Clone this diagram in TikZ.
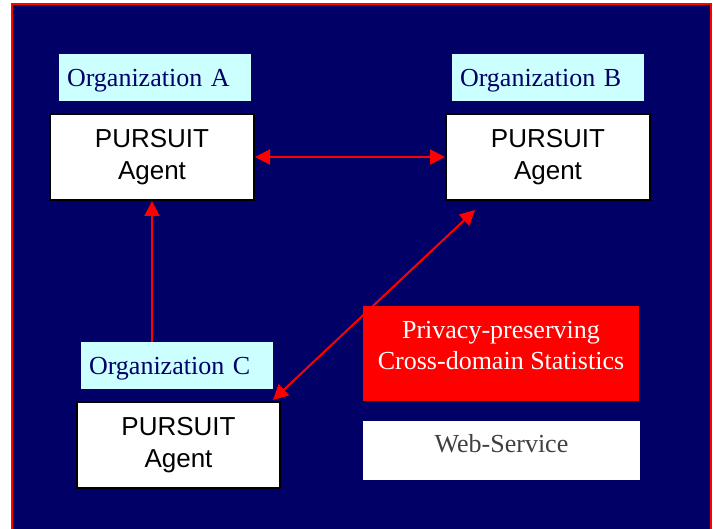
\documentclass[tikz,border=0pt]{standalone}
\usepackage{fontspec}
\setmainfont{Liberation Serif}
\newfontfamily\arialfont{Liberation Sans}
\usetikzlibrary{arrows.meta}
\definecolor{navybg}{RGB}{0,0,102}
\definecolor{lightcyan}{RGB}{204,255,255}
\definecolor{pptred}{RGB}{255,0,0}
\definecolor{webgray}{RGB}{64,64,64}
\begin{document}
\begin{tikzpicture}[x=1pt,y=-1pt,
  orglabel/.style={fill=lightcyan, text=navybg, font=\fontsize{26}{31}\selectfont,
    inner xsep=8pt, inner ysep=0pt, text width=176pt, align=left,
    minimum height=47pt, text height=22pt, text depth=3pt},
  agentbox/.style={fill=white, draw=black, line width=2pt, font=\arialfont\fontsize{26}{32}\selectfont,
    align=center, minimum width=204pt, minimum height=86pt, inner sep=0pt},
  link/.style={draw=pptred, line width=2pt},
  tip/.style={-{Triangle[length=15pt,width=15pt]}},
  bothtip/.style={{Triangle[length=15pt,width=15pt]}-{Triangle[length=15pt,width=15pt]}}
]
\useasboundingbox (0,0) rectangle (713,529);
\fill[white] (0,0) rectangle (713,529);
\filldraw[fill=navybg, draw=pptred, line width=2pt] (12,4) rectangle (711,529.6);

\node[orglabel] (orgA) at (155,77.5) {Organization A};
\node[agentbox] (agentA) at (152,157) {PURSUIT\\Agent};
\node[orglabel] (orgB) at (548,77.5) {Organization B};
\node[agentbox] (agentB) at (548,157) {PURSUIT\\Agent};
\node[orglabel] (orgC) at (177,365.5) {Organization C};
\node[agentbox, minimum width=203pt] (agentC) at (178.5,445) {PURSUIT\\Agent};

\node[fill=pptred, minimum width=276pt, minimum height=95pt, inner sep=0pt] (stats) at (501,354) {};
\node[text=white, align=center, inner sep=0pt, font=\fontsize{26}{31}\selectfont] (statstext) at (501,345.8)
  {Privacy-preserving\\Cross-domain Statistics};

\node[fill=white, text=webgray, minimum width=277pt, minimum height=59pt, inner sep=0pt,
  font=\fontsize{26}{31}\selectfont, text height=18pt, text depth=13pt] (web) at (501.5,450.5) {Web-Service};

\coordinate (bTip) at (475,210);
\coordinate (cTip) at (273,400);

\draw[link, bothtip] (agentA.east) -- (agentB.west);
\draw[link, tip] (agentA.south |- orgC.north) -- (agentA.south);
\draw[link, bothtip] (cTip) -- (bTip);
\end{tikzpicture}
\end{document}
